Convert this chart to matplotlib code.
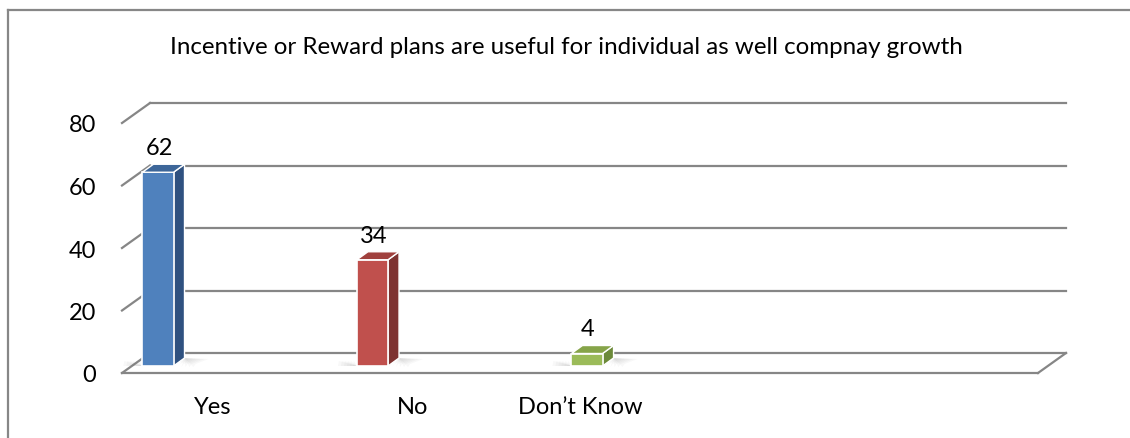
import matplotlib.pyplot as plt
from matplotlib.patches import Polygon
from matplotlib.lines import Line2D

plt.rcParams['font.family'] = ['Lato', 'DejaVu Sans']

title = 'Incentive or Reward plans are useful for individual as well compnay growth'
categories = ['Yes', 'No', 'Don\u2019t Know']
values = [62, 34, 4]
yticks = [0, 20, 40, 60, 80]

# colours per bar: front, side, top
fronts = ['#4F81BD', '#C0504D', '#9BBB59']
sides = ['#2F5180', '#7E3331', '#6C8A3A']
tops = ['#3D6699', '#A0403D', '#86A449']

label_x = [0.30, 1.235, 2.014]  # where Excel put the category labels

grid_col = '#868686'
fs = 17

fig = plt.figure(figsize=(11.3, 4.39), dpi=100)
ax = fig.add_axes([122 / 1130, 65 / 439, 916 / 1130, 250 / 439])
xmin, xmax = -0.121, 4.149
ax.set_xlim(xmin, xmax)
ax.set_ylim(0, 80)
ax.axis('off')


def shift(x, y, dx, dy):
    # move a data point by (dx, dy) pixels, back in data coords
    px, py = ax.transData.transform((x, y))
    return tuple(ax.transData.inverted().transform((px + dx, py + dy)))


wall = (28, 20)

# back wall gridlines, left stubs and tick labels
for v in yticks:
    a = shift(xmin, v, *wall)
    b = shift(xmax, v, *wall)
    ax.plot([a[0], b[0]], [a[1], b[1]], color=grid_col, lw=1.6, clip_on=False, zorder=1)
    ax.plot([xmin, a[0]], [v, a[1]], color=grid_col, lw=1.6, clip_on=False, zorder=1)
    ax.annotate(str(v), xy=(xmin, v), xytext=(-26, -2), textcoords='offset pixels',
                ha='right', va='center', fontsize=fs, annotation_clip=False)

# floor front edge + right diagonal
c = shift(xmax, 0, *wall)
ax.plot([xmin, xmax], [0, 0], color=grid_col, lw=1.6, clip_on=False, zorder=1)
ax.plot([xmax, c[0]], [0, c[1]], color=grid_col, lw=1.6, clip_on=False, zorder=1)

face = (10, 7)
depth = (11, 8)
w = 0.145

for i, (v, fc, sc, tc) in enumerate(zip(values, fronts, sides, tops)):
    x0, x1 = i - w / 2, i + w / 2
    # soft shadow on the floor
    for k in range(6):
        s0 = shift(x0, 0, face[0] - 4 - 3 * k, face[1])
        s1 = shift(x1, 0, face[0] + depth[0] + 4 + 4 * k, face[1] + depth[1] - 1)
        s2 = shift(x1, 0, face[0] + 4 * k, face[1] - 1)
        ax.add_patch(Polygon([shift(x0, 0, face[0] - 3 - 3 * k, face[1] + 5),
                              s0, shift(x0, 0, face[0], face[1])],
                             closed=True, fc='#7f7f7f', ec='none', alpha=0.05, zorder=2))
        ax.add_patch(Polygon([s2, shift(x1, 0, face[0] + depth[0], face[1] + depth[1]),
                              s1, shift(x1, 0, face[0] + 2 + 4 * k, face[1] + 2)],
                             closed=True, fc='#7f7f7f', ec='none', alpha=0.05, zorder=2))
    fa = shift(x0, 0, *face)
    fb = shift(x1, 0, *face)
    fct = shift(x1, v, *face)
    fat = shift(x0, v, *face)
    front = Polygon([fa, fb, fct, fat], closed=True, fc=fc, ec='white', lw=1.2, zorder=4)
    side = Polygon([fb, shift(x1, 0, face[0] + depth[0], face[1] + depth[1]),
                    shift(x1, v, face[0] + depth[0], face[1] + depth[1]), fct],
                   closed=True, fc=sc, ec='white', lw=1.0, zorder=3)
    top = Polygon([fat, fct, shift(x1, v, face[0] + depth[0], face[1] + depth[1]),
                   shift(x0, v, face[0] + depth[0], face[1] + depth[1])],
                  closed=True, fc=tc, ec='white', lw=1.0, zorder=5)
    for p in (side, front, top):
        ax.add_patch(p)
    ax.annotate(str(v), xy=(i, v), xytext=(face[0] + 1, face[1] + depth[1] + 6),
                textcoords='offset pixels', ha='center', va='bottom', fontsize=fs)

for lx, name in zip(label_x, categories):
    ax.annotate(name, xy=(lx, 0), xytext=(0, -34), textcoords='offset pixels',
                ha='center', va='center', fontsize=fs, annotation_clip=False)

fig.text(566 / 1130, 1 - 47 / 439, title, ha='center', va='center', fontsize=17.4)

# chart area border (left and top only show in the crop)
fig.add_artist(Line2D([8 / 1130, 8 / 1130], [0, 1 - 11 / 439], color='#878787', lw=1.6))
fig.add_artist(Line2D([8 / 1130, 1], [1 - 11 / 439, 1 - 11 / 439], color='#878787', lw=1.6))

fig.savefig('out.png', dpi=100, facecolor='white')
